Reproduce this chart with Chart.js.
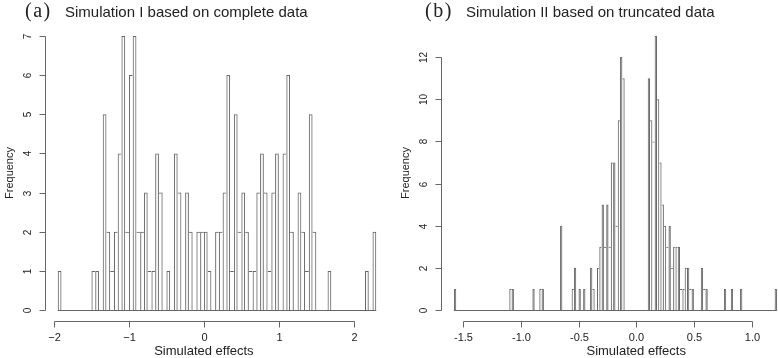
<!DOCTYPE html>
<html>
<head>
<meta charset="utf-8">
<script src="https://cdn.jsdelivr.net/npm/chart.js@4.4.0/dist/chart.umd.min.js"></script>
<style>
  body { margin: 0; background: #fff; }
  #wrap { position: relative; width: 778px; height: 358px; overflow: hidden; font-family: 'Liberation Sans', Arial, sans-serif; color: #222; }
  .panel { position: absolute; top: 0; width: 389px; height: 358px; }
  .tag { position: absolute; top: 0; font-family: 'Liberation Serif', 'Times New Roman', serif; font-size: 20px; line-height: 1; letter-spacing: 1.5px; }
  .title { position: absolute; top: 4px; font-size: 15px; line-height: 1; white-space: nowrap; }
</style>
</head>
<body>
<div id="wrap">
  <div class="panel" style="left:0"><canvas id="histA" width="389" height="358"></canvas></div>
  <div class="panel" style="left:389px"><canvas id="histB" width="389" height="358"></canvas></div>
  <div class="tag" style="left:25px">(a)</div>
  <div class="title" style="left:65px">Simulation I based on complete data</div>
  <div class="tag" style="left:425px">(b)</div>
  <div class="title" style="left:466px">Simulation II based on truncated data</div>
</div>
<script>
// panel (a): bins of 0.05 starting at -1.95
const firstBreakA = -1.95;
const binWidthA = 0.05;
const countsA = [
  1, 0, 0, 0, 0, 0, 0, 0, 0,
  1, 1, 0, 5, 2, 1, 2, 4, 7, 2,
  6, 7, 2, 2, 3, 1, 1, 4, 3, 0,
  1, 0, 4, 3, 0, 3, 2, 0, 2, 2,
  2, 1, 0, 2, 2, 3, 6, 1, 5, 2,
  3, 2, 1, 1, 3, 4, 3, 1, 3, 4,
  0, 4, 6, 2, 0, 3, 2, 1, 5, 2,
  0, 0, 0, 1, 0, 0, 0, 0, 0, 0,
  0, 0, 0, 1, 0, 2
];
const xTicksA = [-2, -1, 0, 1, 2];
const xLabelsA = ['\u22122', '\u22121', '0', '1', '2'];
const yTicksA = [0, 1, 2, 3, 4, 5, 6, 7];

// panel (b): bins of 0.02 starting at -1.58
const firstBreakB = -1.58;
const binWidthB = 0.02;
const countsB = [
  1, 0, 0, 0, 0, 0, 0, 0, 0, 0,
  0, 0, 0, 0, 0, 0, 0, 0, 0, 0,
  0, 0, 0, 0, 1, 1, 0, 0, 0, 0,
  0, 0, 0, 0, 1, 0, 0, 1, 1, 0,
  0, 0, 0, 0, 0, 0, 4, 0, 0, 0,
  0, 1, 2, 0, 1, 0, 1, 0, 0, 2,
  1, 0, 2, 3, 5, 3, 5, 3, 7, 7,
  4, 9, 12, 11, 0, 0, 0, 0, 0, 0,
  0, 0, 0, 0, 11, 9, 8, 13, 10, 7,
  5, 4, 3, 4, 2, 3, 3, 3, 1, 1,
  2, 2, 1, 1, 0, 0, 0, 2, 1, 1,
  0, 0, 0, 0, 0, 0, 0, 1, 0, 0,
  1, 0, 0, 0, 1, 0, 0, 0, 0, 0,
  0, 0, 0, 0, 0, 0, 0, 0, 0, 1
];
const xTicksB = [-1.5, -1.0, -0.5, 0.0, 0.5, 1.0];
const xLabelsB = ['-1.5', '-1.0', '-0.5', '0.0', '0.5', '1.0'];
const yTicksB = [0, 2, 4, 6, 8, 10, 12];

const lineColor = '#666';
const textColor = '#222';

// R-style axes: lines only between first and last tick, rotated y labels
const rAxes = {
  id: 'rAxes',
  afterDatasetsDraw(chart, args, opts) {
    const { ctx, chartArea, scales: { x, y } } = chart;
    ctx.save();
    ctx.strokeStyle = lineColor;
    ctx.fillStyle = textColor;
    ctx.lineWidth = 1;

    // baseline under the histogram (zero-height cells)
    const y0 = Math.round(y.getPixelForValue(0)) + 0.5;
    ctx.beginPath();
    ctx.moveTo(x.getPixelForValue(opts.from), y0);
    ctx.lineTo(x.getPixelForValue(opts.to), y0);
    ctx.stroke();

    // x axis
    const ax = Math.round(chartArea.bottom) + 0.5;
    const xs = opts.xTicks.map(v => Math.round(x.getPixelForValue(v)) + 0.5);
    ctx.beginPath();
    ctx.moveTo(xs[0], ax);
    ctx.lineTo(xs[xs.length - 1], ax);
    xs.forEach(px => { ctx.moveTo(px, ax); ctx.lineTo(px, ax + 6); });
    ctx.stroke();
    ctx.font = '11px "Liberation Sans", Arial, sans-serif';
    ctx.textAlign = 'center';
    ctx.textBaseline = 'middle';
    xs.forEach((px, i) => ctx.fillText(opts.xLabels[i], px, ax + 16));
    ctx.font = '13px "Liberation Sans", Arial, sans-serif';
    ctx.fillText(opts.xTitle, x.getPixelForValue(0), ax + 30);

    // y axis
    const ay = Math.round(chartArea.left) + 0.5;
    const ys = opts.yTicks.map(v => Math.round(y.getPixelForValue(v)) + 0.5);
    ctx.beginPath();
    ctx.moveTo(ay, ys[0]);
    ctx.lineTo(ay, ys[ys.length - 1]);
    ys.forEach(py => { ctx.moveTo(ay, py); ctx.lineTo(ay - 6, py); });
    ctx.stroke();
    ctx.font = '10px "Liberation Sans", Arial, sans-serif';
    ys.forEach((py, i) => {
      ctx.save();
      ctx.translate(ay - 17, py);
      ctx.rotate(-Math.PI / 2);
      ctx.fillText(String(opts.yTicks[i]), 0, 0);
      ctx.restore();
    });
    ctx.save();
    ctx.font = '11px "Liberation Sans", Arial, sans-serif';
    ctx.translate(ay - 36, (chartArea.top + chartArea.bottom) / 2);
    ctx.rotate(-Math.PI / 2);
    ctx.fillText(opts.yTitle, 0, 0);
    ctx.restore();

    ctx.restore();
  }
};

function makeHist(id, counts, firstBreak, binWidth, xMin, xMax, yMax, padLeft, axisOpts) {
  const data = counts.map((c, i) => ({ x: firstBreak + binWidth * (i + 0.5), y: c }));
  // shared edges drawn once, by the taller neighbour
  const edges = (ctx) => {
    const i = ctx.dataIndex;
    const h = counts[i];
    const prev = i > 0 ? counts[i - 1] : 0;
    const next = i < counts.length - 1 ? counts[i + 1] : 0;
    return { top: 1, bottom: 0, left: h >= prev ? 1 : 0, right: h > next ? 1 : 0 };
  };
  return new Chart(document.getElementById(id), {
    type: 'bar',
    data: {
      datasets: [{
        data,
        backgroundColor: 'rgba(255,255,255,0)',
        borderColor: lineColor,
        borderWidth: edges,
        borderSkipped: false,
        inflateAmount: 0,
        barPercentage: 1,
        categoryPercentage: 1
      }]
    },
    options: {
      responsive: false,
      animation: false,
      layout: { padding: { left: padLeft, right: 0, top: 25, bottom: 37 } },
      scales: {
        x: { type: 'linear', offset: false, min: xMin, max: xMax, display: false },
        y: { min: -yMax * 0.04, max: yMax * 1.04, display: false }
      },
      plugins: {
        legend: { display: false },
        tooltip: { enabled: false },
        rAxes: Object.assign({
          from: firstBreak,
          to: firstBreak + binWidth * counts.length,
          xTitle: 'Simulated effects',
          yTitle: 'Frequency'
        }, axisOpts)
      }
    },
    plugins: [rAxes]
  });
}

makeHist('histA', countsA, firstBreakA, binWidthA, -2.12, 2.47, 7, 45,
  { xTicks: xTicksA, xLabels: xLabelsA, yTicks: yTicksA });
makeHist('histB', countsB, firstBreakB, binWidthB, -1.692, 1.229, 13, 52,
  { xTicks: xTicksB, xLabels: xLabelsB, yTicks: yTicksB });
</script>
</body>
</html>
